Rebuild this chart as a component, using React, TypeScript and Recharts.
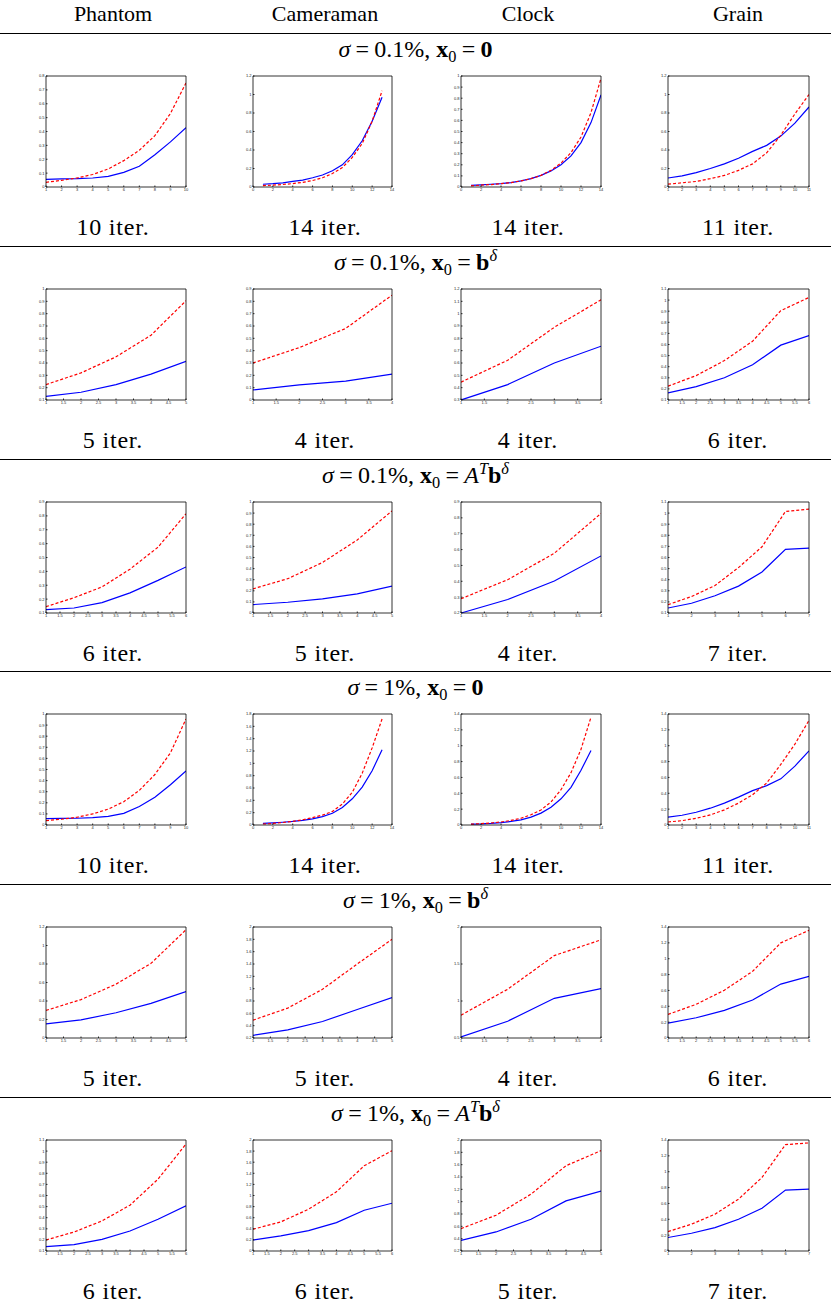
import React from 'react';
import { LineChart, Line, XAxis, YAxis } from 'recharts';

// ---------- labels ----------
const columnNames = ['Phantom', 'Cameraman', 'Clock', 'Grain'];
const iterLabels = [
  ['10 iter.', '14 iter.', '14 iter.', '11 iter.'],
  ['5 iter.', '4 iter.', '4 iter.', '6 iter.'],
  ['6 iter.', '5 iter.', '4 iter.', '7 iter.'],
  ['10 iter.', '14 iter.', '14 iter.', '11 iter.'],
  ['5 iter.', '5 iter.', '4 iter.', '6 iter.'],
  ['6 iter.', '6 iter.', '5 iter.', '7 iter.'],
];
const sigmaLabels = ['0.1%', '0.1%', '0.1%', '1%', '1%', '1%'];
const x0Kinds = ['zero', 'b', 'atb', 'zero', 'b', 'atb'];

// ---------- tick arrays ----------
const xt1to10 = [1, 2, 3, 4, 5, 6, 7, 8, 9, 10];
const xt0to14 = [0, 2, 4, 6, 8, 10, 12, 14];
const xt1to11 = [1, 2, 3, 4, 5, 6, 7, 8, 9, 10, 11];
const xtHalf1to4 = [1, 1.5, 2, 2.5, 3, 3.5, 4];
const xtHalf1to5 = [1, 1.5, 2, 2.5, 3, 3.5, 4, 4.5, 5];
const xtHalf1to6 = [1, 1.5, 2, 2.5, 3, 3.5, 4, 4.5, 5, 5.5, 6];
const xt1to7 = [1, 2, 3, 4, 5, 6, 7];

const yt0to08 = [0, 0.1, 0.2, 0.3, 0.4, 0.5, 0.6, 0.7, 0.8];
const yt0to09 = [0, 0.1, 0.2, 0.3, 0.4, 0.5, 0.6, 0.7, 0.8, 0.9];
const yt0to1 = [0, 0.1, 0.2, 0.3, 0.4, 0.5, 0.6, 0.7, 0.8, 0.9, 1];
const yt01to1 = [0.1, 0.2, 0.3, 0.4, 0.5, 0.6, 0.7, 0.8, 0.9, 1];
const yt01to09 = [0.1, 0.2, 0.3, 0.4, 0.5, 0.6, 0.7, 0.8, 0.9];
const yt02to09 = [0.2, 0.3, 0.4, 0.5, 0.6, 0.7, 0.8, 0.9];
const yt01to11 = [0.1, 0.2, 0.3, 0.4, 0.5, 0.6, 0.7, 0.8, 0.9, 1, 1.1];
const yt03to12 = [0.3, 0.4, 0.5, 0.6, 0.7, 0.8, 0.9, 1, 1.1, 1.2];
const yt0to12 = [0, 0.2, 0.4, 0.6, 0.8, 1, 1.2];
const yt0to14 = [0, 0.2, 0.4, 0.6, 0.8, 1, 1.2, 1.4];
const yt0to18 = [0, 0.2, 0.4, 0.6, 0.8, 1, 1.2, 1.4, 1.6, 1.8];
const yt0to2 = [0, 0.2, 0.4, 0.6, 0.8, 1, 1.2, 1.4, 1.6, 1.8, 2];
const yt02to2 = [0.2, 0.4, 0.6, 0.8, 1, 1.2, 1.4, 1.6, 1.8, 2];
const yt05to2 = [0.5, 1, 1.5, 2];

// ---------- series (blue solid / red dashed) ----------
// Row 1: sigma = 0.1%, x0 = 0
const r1PhantomBlue = [0.055, 0.058, 0.06, 0.065, 0.077, 0.105, 0.15, 0.233, 0.325, 0.428];
const r1PhantomRed = [0.034, 0.048, 0.065, 0.09, 0.13, 0.19, 0.265, 0.37, 0.53, 0.75];
const r1CameramanBlue = [0.03, 0.036, 0.045, 0.06, 0.075, 0.1, 0.13, 0.175, 0.24, 0.35, 0.5, 0.71, 0.97];
const r1CameramanRed = [0.015, 0.02, 0.027, 0.037, 0.05, 0.07, 0.1, 0.145, 0.21, 0.32, 0.47, 0.71, 1.04];
const r1ClockBlue = [0.015, 0.02, 0.025, 0.03, 0.04, 0.055, 0.075, 0.105, 0.145, 0.2, 0.28, 0.4, 0.58, 0.83];
const r1ClockRed = [0.01, 0.017, 0.022, 0.03, 0.04, 0.055, 0.075, 0.105, 0.15, 0.215, 0.31, 0.45, 0.67, 0.98];
const r1GrainBlue = [0.097, 0.12, 0.155, 0.2, 0.25, 0.31, 0.385, 0.45, 0.55, 0.69, 0.865];
const r1GrainRed = [0.03, 0.045, 0.06, 0.09, 0.125, 0.18, 0.25, 0.37, 0.56, 0.79, 1.0];

// Row 2: sigma = 0.1%, x0 = b^delta
const r2PhantomBlue = [0.13, 0.163, 0.225, 0.31, 0.413];
const r2PhantomRed = [0.225, 0.32, 0.45, 0.625, 0.905];
const r2CameramanBlue = [0.082, 0.123, 0.153, 0.21];
const r2CameramanRed = [0.3, 0.425, 0.58, 0.85];
const r2ClockBlue = [0.3, 0.425, 0.6, 0.736];
const r2ClockRed = [0.445, 0.622, 0.89, 1.112];
const r2GrainBlue = [0.164, 0.22, 0.3, 0.418, 0.594, 0.68];
const r2GrainRed = [0.224, 0.32, 0.455, 0.63, 0.905, 1.024];

// Row 3: sigma = 0.1%, x0 = A^T b^delta
const r3PhantomBlue = [0.124, 0.136, 0.175, 0.245, 0.335, 0.432];
const r3PhantomRed = [0.146, 0.21, 0.288, 0.416, 0.574, 0.815];
const r3CameramanBlue = [0.076, 0.097, 0.127, 0.173, 0.242];
const r3CameramanRed = [0.218, 0.309, 0.455, 0.658, 0.92];
const r3ClockBlue = [0.2, 0.285, 0.402, 0.56];
const r3ClockRed = [0.29, 0.41, 0.577, 0.828];
const r3GrainBlue = [0.145, 0.188, 0.255, 0.342, 0.47, 0.673, 0.685];
const r3GrainRed = [0.175, 0.248, 0.348, 0.509, 0.697, 1.015, 1.036];

// Row 4: sigma = 1%, x0 = 0
const r4PhantomBlue = [0.058, 0.06, 0.061, 0.066, 0.078, 0.105, 0.167, 0.25, 0.363, 0.488];
const r4PhantomRed = [0.04, 0.052, 0.07, 0.1, 0.143, 0.21, 0.312, 0.455, 0.65, 0.955];
const r4CameramanBlue = [0.027, 0.035, 0.045, 0.058, 0.075, 0.1, 0.135, 0.19, 0.285, 0.425, 0.615, 0.88, 1.22];
const r4CameramanRed = [0.016, 0.025, 0.04, 0.058, 0.085, 0.12, 0.16, 0.22, 0.34, 0.53, 0.84, 1.25, 1.72];
const r4ClockBlue = [0.01, 0.013, 0.02, 0.03, 0.045, 0.064, 0.1, 0.15, 0.225, 0.33, 0.475, 0.69, 0.94];
const r4ClockRed = [0.01, 0.017, 0.025, 0.038, 0.058, 0.085, 0.13, 0.19, 0.29, 0.445, 0.66, 0.955, 1.36];
const r4GrainBlue = [0.098, 0.123, 0.161, 0.212, 0.276, 0.352, 0.433, 0.497, 0.582, 0.743, 0.934];
const r4GrainRed = [0.038, 0.055, 0.085, 0.127, 0.191, 0.276, 0.382, 0.53, 0.764, 1.02, 1.32];

// Row 5: sigma = 1%, x0 = b^delta
const r5PhantomBlue = [0.153, 0.196, 0.273, 0.375, 0.502];
const r5PhantomRed = [0.298, 0.415, 0.582, 0.807, 1.17];
const r5CameramanBlue = [0.244, 0.331, 0.467, 0.663, 0.854];
const r5CameramanRed = [0.489, 0.685, 0.99, 1.4, 1.8];
const r5ClockBlue = [0.514, 0.727, 1.036, 1.168];
const r5ClockRed = [0.809, 1.159, 1.614, 1.827];
const r5GrainBlue = [0.187, 0.255, 0.348, 0.48, 0.68, 0.777];
const r5GrainRed = [0.297, 0.425, 0.603, 0.841, 1.2, 1.358];

// Row 6: sigma = 1%, x0 = A^T b^delta
const r6PhantomBlue = [0.139, 0.157, 0.205, 0.28, 0.386, 0.507];
const r6PhantomRed = [0.199, 0.271, 0.371, 0.513, 0.747, 1.064];
const r6CameramanBlue = [0.199, 0.271, 0.367, 0.512, 0.735, 0.861];
const r6CameramanRed = [0.392, 0.524, 0.753, 1.066, 1.536, 1.807];
const r6ClockBlue = [0.373, 0.509, 0.715, 1.013, 1.17];
const r6ClockRed = [0.563, 0.78, 1.122, 1.583, 1.827];
const r6GrainBlue = [0.17, 0.224, 0.295, 0.401, 0.54, 0.768, 0.781];
const r6GrainRed = [0.245, 0.338, 0.465, 0.654, 0.928, 1.342, 1.363];

type Spec = { blue: number[]; red: number[]; xTicks: number[]; yTicks: number[] };

const grid: Spec[][] = [
  [
    { blue: r1PhantomBlue, red: r1PhantomRed, xTicks: xt1to10, yTicks: yt0to08 },
    { blue: r1CameramanBlue, red: r1CameramanRed, xTicks: xt0to14, yTicks: yt0to12 },
    { blue: r1ClockBlue, red: r1ClockRed, xTicks: xt0to14, yTicks: yt0to1 },
    { blue: r1GrainBlue, red: r1GrainRed, xTicks: xt1to11, yTicks: yt0to12 },
  ],
  [
    { blue: r2PhantomBlue, red: r2PhantomRed, xTicks: xtHalf1to5, yTicks: yt01to1 },
    { blue: r2CameramanBlue, red: r2CameramanRed, xTicks: xtHalf1to4, yTicks: yt0to09 },
    { blue: r2ClockBlue, red: r2ClockRed, xTicks: xtHalf1to4, yTicks: yt03to12 },
    { blue: r2GrainBlue, red: r2GrainRed, xTicks: xtHalf1to6, yTicks: yt01to11 },
  ],
  [
    { blue: r3PhantomBlue, red: r3PhantomRed, xTicks: xtHalf1to6, yTicks: yt01to09 },
    { blue: r3CameramanBlue, red: r3CameramanRed, xTicks: xtHalf1to5, yTicks: yt0to1 },
    { blue: r3ClockBlue, red: r3ClockRed, xTicks: xtHalf1to4, yTicks: yt02to09 },
    { blue: r3GrainBlue, red: r3GrainRed, xTicks: xt1to7, yTicks: yt01to11 },
  ],
  [
    { blue: r4PhantomBlue, red: r4PhantomRed, xTicks: xt1to10, yTicks: yt0to1 },
    { blue: r4CameramanBlue, red: r4CameramanRed, xTicks: xt0to14, yTicks: yt0to18 },
    { blue: r4ClockBlue, red: r4ClockRed, xTicks: xt0to14, yTicks: yt0to14 },
    { blue: r4GrainBlue, red: r4GrainRed, xTicks: xt1to11, yTicks: yt0to14 },
  ],
  [
    { blue: r5PhantomBlue, red: r5PhantomRed, xTicks: xtHalf1to5, yTicks: yt0to12 },
    { blue: r5CameramanBlue, red: r5CameramanRed, xTicks: xtHalf1to5, yTicks: yt02to2 },
    { blue: r5ClockBlue, red: r5ClockRed, xTicks: xtHalf1to4, yTicks: yt05to2 },
    { blue: r5GrainBlue, red: r5GrainRed, xTicks: xtHalf1to6, yTicks: yt0to14 },
  ],
  [
    { blue: r6PhantomBlue, red: r6PhantomRed, xTicks: xtHalf1to6, yTicks: yt01to11 },
    { blue: r6CameramanBlue, red: r6CameramanRed, xTicks: xtHalf1to6, yTicks: yt0to2 },
    { blue: r6ClockBlue, red: r6ClockRed, xTicks: xtHalf1to5, yTicks: yt02to2 },
    { blue: r6GrainBlue, red: r6GrainRed, xTicks: xt1to7, yTicks: yt0to14 },
  ],
];

// ---------- layout ----------
const PERIOD = 212.8;
const boxCols = [
  { left: 46, width: 140 },
  { left: 253, width: 139 },
  { left: 461, width: 140 },
  { left: 668, width: 141 },
];
const textCenters = [113, 325, 528, 738];
const SERIF = '"Liberation Serif", "Times New Roman", serif';

function MiniChart({ spec, left, top, width, height }: { spec: Spec; left: number; top: number; width: number; height: number }) {
  const ML = 24;
  const MT = 3;
  const MR = 3;
  const XH = 10;
  const data = spec.blue.map((b, i) => ({ x: i + 1, b, r: spec.red[i] }));
  const xd = [spec.xTicks[0], spec.xTicks[spec.xTicks.length - 1]];
  const yd = [spec.yTicks[0], spec.yTicks[spec.yTicks.length - 1]];
  const tickStyle = { fontSize: 4, fill: '#262626', fontFamily: '"Liberation Sans", Arial, sans-serif' };
  const lineStyle = { stroke: '#000', strokeWidth: 0.8 };
  return (
    <div style={{ position: 'absolute', left: left - ML, top: top - MT }}>
      <LineChart width={width + ML + MR} height={height + MT + XH} data={data} margin={{ top: MT, right: MR, bottom: 0, left: 0 }}>
        <XAxis
          dataKey="x"
          type="number"
          domain={xd}
          ticks={spec.xTicks}
          allowDataOverflow
          interval={0}
          height={XH}
          tickSize={-1.5}
          tickMargin={3}
          tick={tickStyle}
          axisLine={lineStyle}
          tickLine={lineStyle}
        />
        <XAxis
          xAxisId="t"
          orientation="top"
          mirror
          dataKey="x"
          type="number"
          domain={xd}
          ticks={spec.xTicks}
          allowDataOverflow
          interval={0}
          tick={false}
          tickSize={1.5}
          axisLine={lineStyle}
          tickLine={lineStyle}
        />
        <YAxis
          type="number"
          domain={yd}
          ticks={spec.yTicks}
          allowDataOverflow
          interval={0}
          width={ML}
          tickSize={-1.5}
          tickMargin={3}
          tick={tickStyle}
          axisLine={lineStyle}
          tickLine={lineStyle}
        />
        <YAxis
          yAxisId="r"
          orientation="right"
          mirror
          type="number"
          domain={yd}
          ticks={spec.yTicks}
          allowDataOverflow
          interval={0}
          tick={false}
          tickSize={1.5}
          axisLine={lineStyle}
          tickLine={lineStyle}
        />
        <Line type="linear" dataKey="b" stroke="#0000ff" strokeWidth={1.2} dot={false} isAnimationActive={false} />
        <Line type="linear" dataKey="r" stroke="#ff0000" strokeWidth={1.2} strokeDasharray="3 2" dot={false} isAnimationActive={false} />
      </LineChart>
    </div>
  );
}

function Eq() {
  return <span style={{ margin: '0 0.22em' }}>=</span>;
}

function Title({ sigma, kind }: { sigma: string; kind: string }) {
  const sub = { fontSize: '0.68em', position: 'relative' as const, top: 5 };
  const sup = { fontSize: '0.68em', position: 'relative' as const, top: -9, fontStyle: 'italic' as const };
  let rhs: React.ReactNode;
  if (kind === 'zero') rhs = <b>0</b>;
  else if (kind === 'b')
    rhs = (
      <>
        <b>b</b>
        <span style={sup}>δ</span>
      </>
    );
  else
    rhs = (
      <>
        <i>A</i>
        <span style={sup}>T</span>
        <b>b</b>
        <span style={sup}>δ</span>
      </>
    );
  return (
    <span>
      <i>σ</i>
      <Eq />
      {sigma}, <b>x</b>
      <span style={sub}>0</span>
      <Eq />
      {rhs}
    </span>
  );
}

export default function App() {
  const items: React.ReactNode[] = [];
  columnNames.forEach((n, c) => {
    items.push(
      <div
        key={'h' + c}
        style={{ position: 'absolute', left: textCenters[c] - 100, width: 200, top: 0, height: 28, lineHeight: '28px', textAlign: 'center', fontSize: 22, fontFamily: SERIF }}
      >
        {n}
      </div>
    );
  });
  for (let r = 0; r < 6; r++) {
    const L = Math.round(33 + PERIOD * r);
    const boxTop = Math.round(76 + PERIOD * r);
    items.push(<div key={'l' + r} style={{ position: 'absolute', left: 0, top: L, width: 831, height: 1, background: '#000' }} />);
    items.push(
      <div
        key={'t' + r}
        style={{ position: 'absolute', left: 0, width: 831, top: L + 2, height: 28, lineHeight: '28px', textAlign: 'center', fontSize: 24, fontFamily: SERIF, whiteSpace: 'nowrap' }}
      >
        <Title sigma={sigmaLabels[r]} kind={x0Kinds[r]} />
      </div>
    );
    for (let c = 0; c < 4; c++) {
      items.push(
        <MiniChart key={'c' + r + '-' + c} spec={grid[r][c]} left={boxCols[c].left} top={boxTop} width={boxCols[c].width} height={111} />
      );
      items.push(
        <div
          key={'i' + r + '-' + c}
          style={{ position: 'absolute', left: textCenters[c] - 100, width: 200, top: L + 179, height: 30, lineHeight: '30px', textAlign: 'center', fontSize: 24, letterSpacing: 0.8, fontFamily: SERIF }}
        >
          {iterLabels[r][c]}
        </div>
      );
    }
  }
  return (
    <div style={{ position: 'absolute', left: 0, top: 0, width: 831, height: 1307, background: '#fff', overflow: 'hidden' }}>
      {items}
    </div>
  );
}
